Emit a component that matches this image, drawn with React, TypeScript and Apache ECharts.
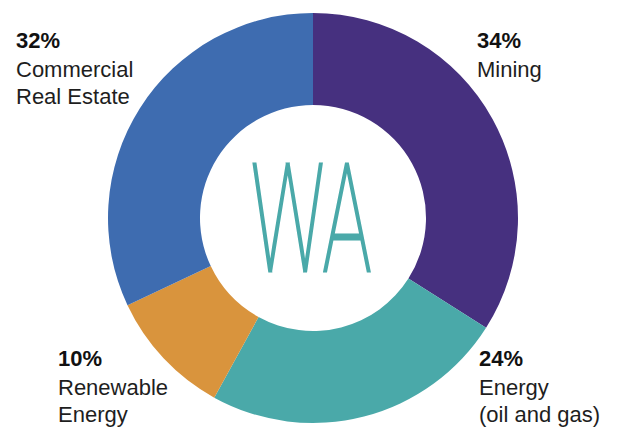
import React, { useEffect, useRef } from "react";
import * as echarts from "echarts";

const sectors = ["Mining", "Energy (oil and gas)", "Renewable Energy", "Commercial Real Estate"];
const labelLines = [["Mining"], ["Energy", "(oil and gas)"], ["Renewable", "Energy"], ["Commercial", "Real Estate"]];
const shares = [34, 24, 10, 32];
const colors = ["#46307f", "#4aa9a9", "#d9943d", "#3e6cb0"];
const centerText = "WA";

// label anchor positions (top-left of each label block)
const labelPos = [
  [477, 25],
  [479, 343],
  [58, 343],
  [16, 25],
];

export default function App() {
  const ref = useRef<HTMLDivElement>(null);
  useEffect(() => {
    if (!ref.current) return;
    const chart = echarts.init(ref.current, null, { renderer: "svg" });
    chart.setOption({
      animation: false,
      backgroundColor: "#ffffff",
      graphic: [
        {
          type: "text",
          x: 311,
          y: 219,
          scaleX: 0.54,
          style: {
            text: centerText,
            fontFamily: "Roboto",
            fontWeight: 100,
            fontSize: 150,
            fill: "#4aa9a9",
            stroke: "#4aa9a9",
            lineWidth: 3,
            align: "center",
            verticalAlign: "middle",
          },
        },
      ],
      series: [
        {
          type: "pie",
          center: [313, 218],
          radius: [113, 205],
          startAngle: 90,
          clockwise: true,
          silent: true,
          label: {
            show: true,
            position: "outside",
            overflow: "none",
            formatter: (p: any) => {
              const lines = labelLines[p.dataIndex].map((l) => `{n|${l}}`).join("\n");
              return `{p|${shares[p.dataIndex]}%}\n${lines}`;
            },
            rich: {
              p: {
                fontFamily: "Liberation Sans",
                fontWeight: "bold",
                fontSize: 22,
                lineHeight: 31,
                color: "#111111",
              },
              n: {
                fontFamily: "Liberation Sans",
                fontSize: 22,
                lineHeight: 27,
                color: "#1e1e1e",
              },
            },
          },
          labelLine: { show: false },
          labelLayout: (params: any) => ({
            x: labelPos[params.dataIndex][0],
            y: labelPos[params.dataIndex][1],
            align: "left",
            verticalAlign: "top",
            hideOverlap: false,
          }),
          data: sectors.map((name, i) => ({
            name,
            value: shares[i],
            itemStyle: { color: colors[i] },
          })),
        },
      ],
    });
    return () => chart.dispose();
  }, []);
  return (
    <div
      ref={ref}
      style={{ position: "fixed", left: 0, top: 0, width: 619, height: 427 }}
    />
  );
}
